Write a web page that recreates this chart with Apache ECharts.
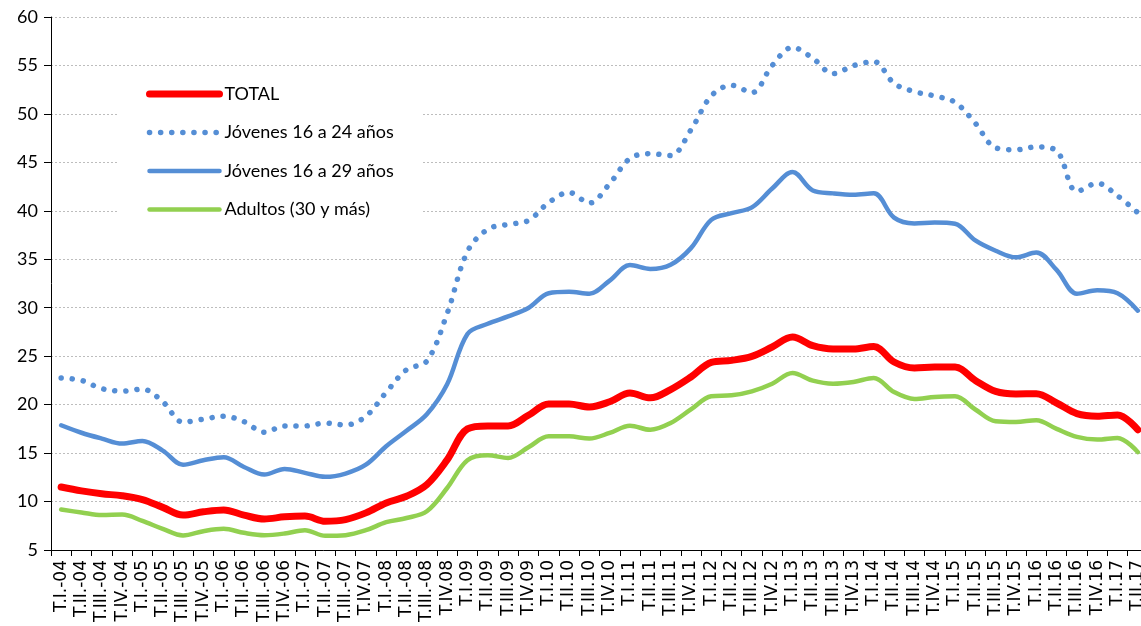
<!DOCTYPE html>
<html>
<head>
<meta charset="utf-8">
<script src="https://cdn.jsdelivr.net/npm/echarts@6/dist/echarts.min.js"></script>
<style>
html,body{margin:0;padding:0;background:#fff;}
#c{width:1141px;height:626px;}
</style>
</head>
<body>
<div id="c"></div>
<script>
const categories = [
 'T.I.-04','T.II.-04','T.III.-04','T.IV.-04',
 'T.I.-05','T.II.-05','T.III.-05','T.IV.-05',
 'T.I.-06','T.II.-06','T.III.-06','T.IV.-06',
 'T.I.-07','T.II.-07','T.III.-07','T.IV.07',
 'T.I.-08','T.II.-08','T.III.-08','T.IV.08',
 'T.I.09','T.II.09','T.III.09','T.IV.09',
 'T.I.10','T.II.10','T.III.10','T.IV.10',
 'T.I.11','T.II.11','T.III.11','T.IV.11',
 'T.I.12','T.II.12','T.III.12','T.IV.12',
 'T.I.13','T.II.13','T.III.13','T.IV.13',
 'T.I.14','T.II.14','T.III.14','T.IV.14',
 'T.I.15','T.II.15','T.III.15','T.IV.15',
 'T.I.16','T.II.16','T.III.16','T.IV.16',
 'T.I.17','T.II.17'
];
const seriesNames = ['TOTAL','Jóvenes 16 a 24 años','Jóvenes 16 a 29 años','Adultos (30 y más)'];
const total = [11.5,11.1,10.8,10.6,10.2,9.4,8.6,8.94,9.14,8.6,8.2,8.42,8.5,7.97,
 8.14,8.83,9.86,10.55,11.75,14.3,17.5,17.8,17.8,18.9,20.07,20.07,19.76,20.3,
 21.2,20.7,21.55,22.85,24.36,24.57,24.98,25.95,26.98,26.08,25.74,25.74,26.0,24.4,
 23.78,23.88,23.88,22.5,21.37,21.1,21.13,20.17,19.07,18.8,18.94,17.4];
const jovenes1624 = [22.75,22.5,21.65,21.4,21.6,20.3,18.2,18.5,18.8,18.25,17.15,17.8,17.8,18.1,
 17.9,18.8,21.27,23.6,24.5,29.4,35.8,38.1,38.6,39.0,40.85,41.9,40.8,42.8,
 45.4,45.9,45.7,48.35,51.85,52.96,52.2,55.0,56.87,55.74,54.15,54.98,55.4,53.15,
 52.3,51.85,51.2,49.04,46.5,46.3,46.6,46.2,42.0,42.85,41.55,39.8];
const jovenes1629 = [17.87,17.1,16.5,15.98,16.26,15.26,13.8,14.26,14.57,13.57,12.78,13.37,12.96,12.55,
 12.89,13.8,15.7,17.3,19.0,22.1,27.3,28.35,29.1,29.97,31.5,31.65,31.45,32.8,
 34.4,34.0,34.43,36.15,39.07,39.76,40.35,42.3,44.0,42.1,41.8,41.65,41.8,39.3,
 38.7,38.8,38.66,36.94,35.88,35.2,35.7,33.9,31.44,31.8,31.5,29.7];
const adultos = [9.17,8.87,8.6,8.66,8.0,7.18,6.5,6.94,7.18,6.77,6.53,6.7,7.04,6.46,
 6.53,7.04,7.87,8.3,9.0,11.4,14.26,14.77,14.5,15.6,16.73,16.73,16.5,17.08,
 17.83,17.4,18.1,19.5,20.86,20.96,21.37,22.16,23.27,22.47,22.16,22.34,22.75,21.3,
 20.58,20.8,20.86,19.5,18.28,18.2,18.4,17.5,16.67,16.4,16.57,15.1];
const yTicks = [5,10,15,20,25,30,35,40,45,50,55,60];

const FONT = 'Lato, "Open Sans", sans-serif';
const COLORS = ['#FF0000', '#558ED5', '#558ED5', '#92D050'];
const WIDTHS = [7, 5.5, 4.5, 4.5];
const DOTS = [0.1, 11];
const chart = echarts.init(document.getElementById('c'), null, {renderer:'canvas'});
const smooth = 0.35;
chart.setOption({
  animation: false,
  backgroundColor: '#fff',
  grid: {left: 51, top: 17, width: 1097, height: 533, containLabel: false, outerBoundsMode: 'none'},
  legend: {
    data: seriesNames.map((n, i) => ({
      name: n,
      lineStyle: {width: WIDTHS[i], color: COLORS[i], type: i === 1 ? DOTS : 'solid', cap: 'round'}
    })),
    orient: 'vertical',
    left: 118, top: 67,
    padding: [18, 28, 18, 28],
    backgroundColor: '#fff',
    itemWidth: 70, itemHeight: 14, itemGap: 20.5,
    itemStyle: {opacity: 0},
    textStyle: {fontFamily: FONT, fontSize: 18, color: '#000'}
  },
  xAxis: {
    type: 'category',
    data: categories,
    boundaryGap: true,
    axisLine: {lineStyle: {color: '#000', width: 1}},
    axisTick: {show: true, length: 6, lineStyle: {color: '#000'}, alignWithLabel: false},
    axisLabel: {interval: 0, rotate: 90, margin: 10, fontFamily: '"DejaVu Sans"', fontSize: 17, color: '#000', overflow: 'none', hideOverlap: false},
    splitLine: {show: false}
  },
  yAxis: {
    type: 'value',
    min: yTicks[0], max: yTicks[yTicks.length-1], interval: 5,
    axisLine: {show: true, lineStyle: {color: '#000', width: 1}},
    axisTick: {show: true, length: 7, lineStyle: {color: '#000'}},
    axisLabel: {margin: 13, fontFamily: FONT, fontSize: 18, color: '#000'},
    splitLine: {show: true, lineStyle: {color: '#BDBDBD', width: 1, type: [2, 2]}}
  },
  series: [
    {name: seriesNames[0], type: 'line', data: total, smooth: smooth, symbol: 'none',
     lineStyle: {color: COLORS[0], width: WIDTHS[0], cap: 'round', join: 'round'}, itemStyle: {color: COLORS[0]}, z: 5},
    {name: seriesNames[1], type: 'line', data: jovenes1624, smooth: smooth, symbol: 'none',
     lineStyle: {color: COLORS[1], width: WIDTHS[1], type: DOTS, cap: 'round'}, itemStyle: {color: COLORS[1]}, z: 3},
    {name: seriesNames[2], type: 'line', data: jovenes1629, smooth: smooth, symbol: 'none',
     lineStyle: {color: COLORS[2], width: WIDTHS[2], cap: 'round', join: 'round'}, itemStyle: {color: COLORS[2]}, z: 3},
    {name: seriesNames[3], type: 'line', data: adultos, smooth: smooth, symbol: 'none',
     lineStyle: {color: COLORS[3], width: WIDTHS[3], cap: 'round', join: 'round'}, itemStyle: {color: COLORS[3]}, z: 4}
  ]
});
</script>
</body>
</html>
